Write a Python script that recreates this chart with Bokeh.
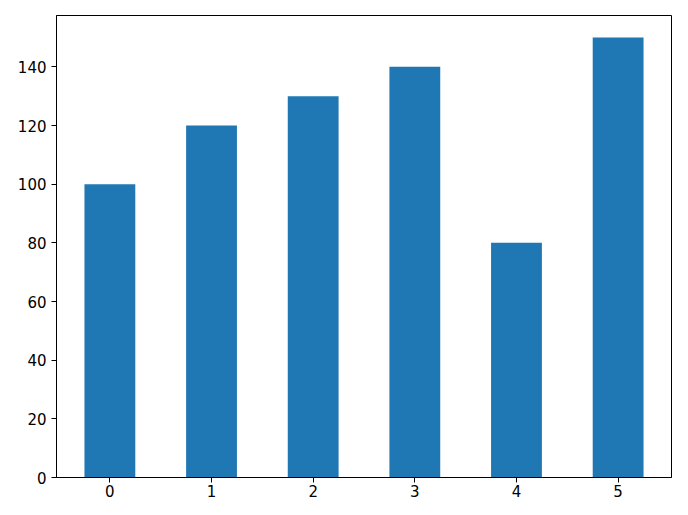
from bokeh.plotting import figure
from bokeh.models import Range1d, FixedTicker
from bokeh.embed import file_html
from bokeh.resources import INLINE

categories = [0, 1, 2, 3, 4, 5]
values = [100, 120, 130, 140, 80, 150]
y_ticks = [0, 20, 40, 60, 80, 100, 120, 140]

p = figure(width=672, height=499, output_backend="svg", toolbar_location=None,
           x_range=Range1d(-0.525, 5.525), y_range=Range1d(0, 157.5),
           min_border_left=56, min_border_right=1, min_border_top=15, min_border_bottom=22)

p.vbar(x=categories, top=values, width=0.5, color="#1f77b4", line_color=None)

p.xgrid.visible = False
p.ygrid.visible = False
p.outline_line_color = "black"
p.outline_line_width = 1
p.outline_line_alpha = 1.0

p.xaxis.ticker = FixedTicker(ticks=categories)
p.yaxis.ticker = FixedTicker(ticks=y_ticks)
for ax in (p.xaxis, p.yaxis):
    ax.major_tick_in = 0
    ax.major_tick_out = 5
    ax.minor_tick_in = 0
    ax.minor_tick_out = 0
    ax.axis_line_color = "black"
    ax.major_tick_line_color = "black"
    ax.major_label_text_font = "DejaVu Sans"
    ax.major_label_text_font_size = "15px"
    ax.major_label_text_color = "black"
p.yaxis.major_label_standoff = 5
p.xaxis.major_label_standoff = 2

open("out.html", "w").write(file_html(p, INLINE))
